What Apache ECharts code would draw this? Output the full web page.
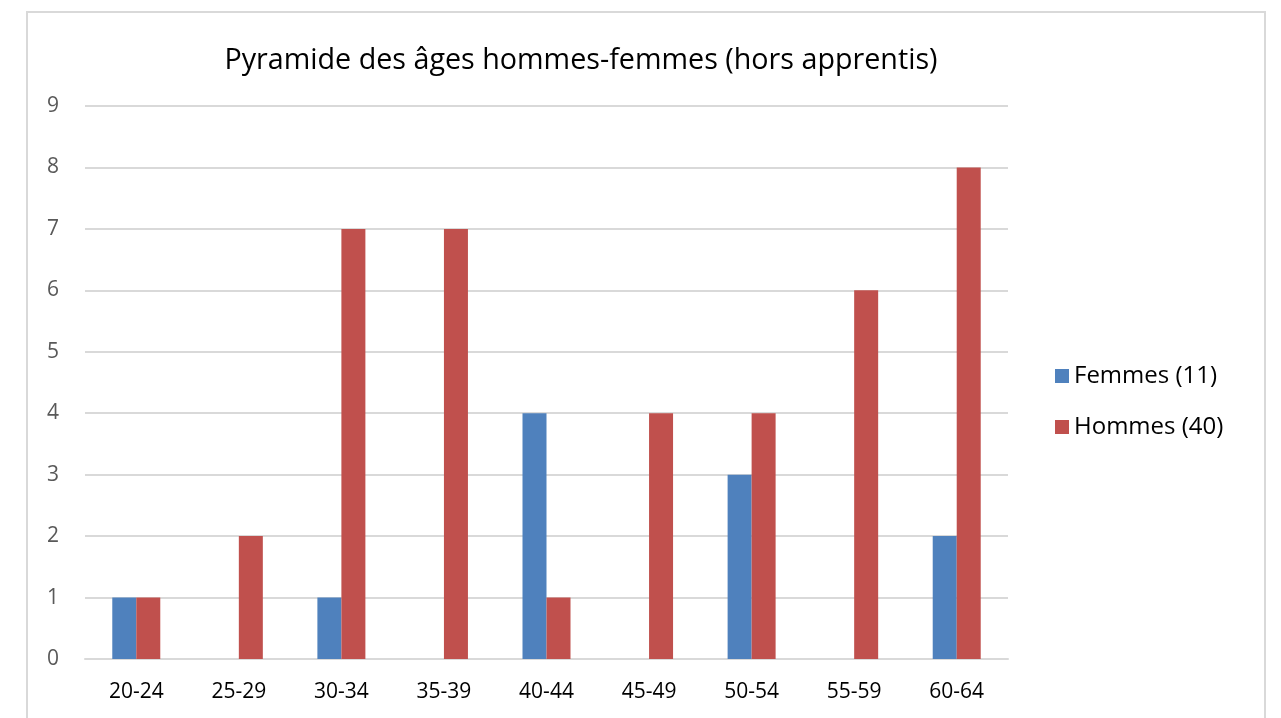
<!DOCTYPE html>
<html><head><meta charset="utf-8">
<script src="https://cdn.jsdelivr.net/npm/echarts@6/dist/echarts.min.js"></script>
<style>html,body{margin:0;padding:0;background:#fff}#c{width:1281px;height:718px}</style>
</head><body><div id="c"></div>
<script>
const categories = ['20-24','25-29','30-34','35-39','40-44','45-49','50-54','55-59','60-64'];
const femmes = [1,0,1,0,4,0,3,0,2];
const hommes = [1,2,7,7,1,4,4,6,8];
const seriesNames = ['Femmes (11)','Hommes (40)'];
const titleText = 'Pyramide des âges hommes-femmes (hors apprentis)';

const chart = echarts.init(document.getElementById('c'));
const font = "'Open Sans', 'DejaVu Sans', sans-serif";
chart.setOption({
  animation: false,
  backgroundColor: '#fff',
  graphic: [{type:'rect', shape:{x:27,y:12,width:1238,height:740}, style:{fill:'none',stroke:'#d9d9d9',lineWidth:2}, z:-1}],
  title: {text: titleText, left: 576, top: 41, textAlign: 'center',
    textStyle:{fontFamily:font, fontSize:28.7, fontWeight:'normal', color:'#000'}},
  legend: {orient:'vertical', left:1050, top:359, itemWidth:14, itemHeight:14, itemGap:27, icon:'rect',
    textStyle:{fontFamily:font, fontSize:24, color:'#000'}},
  grid: {left:85, right:273, top:106, bottom:59, containLabel:false},
  xAxis: {type:'category', data:categories,
    axisLine:{lineStyle:{color:'#d9d9d9', width:2}}, axisTick:{show:false},
    axisLabel:{fontFamily:font, fontSize:21, color:'#000', margin:23}},
  yAxis: {type:'value', min:0, max:9, interval:1,
    axisLine:{show:false}, axisTick:{show:false},
    splitLine:{lineStyle:{color:'#d9d9d9', width:2}},
    axisLabel:{fontFamily:font, fontSize:21, color:'#595959', margin:26}},
  series: [
    {name:seriesNames[0], type:'bar', data:femmes, barWidth:24, barGap:'0%', itemStyle:{color:'#4F81BD'}},
    {name:seriesNames[1], type:'bar', data:hommes, barWidth:24, barGap:'0%', itemStyle:{color:'#C0504D'}}
  ]
});
</script></body></html>
